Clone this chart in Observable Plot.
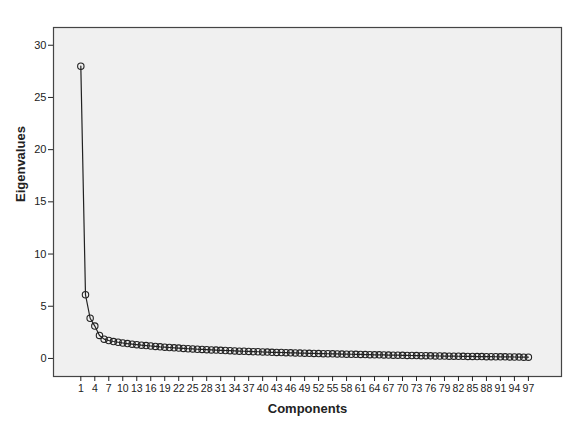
<!DOCTYPE html>
<html>
<head>
<meta charset="utf-8">
<script src="https://cdn.jsdelivr.net/npm/d3@7"></script>
<script src="https://cdn.jsdelivr.net/npm/@observablehq/plot@0.6"></script>
<style>
  html, body { margin: 0; padding: 0; background: #fff; }
</style>
</head>
<body>
<div id="chart"></div>
<script>
const eigenvalues = [
  28.0, 6.1, 3.85, 3.1, 2.2, 1.85, 1.72, 1.62, 1.55, 1.48,
  1.42, 1.37, 1.32, 1.27, 1.23, 1.19, 1.15, 1.11, 1.08, 1.05,
  1.02, 0.99, 0.96, 0.93, 0.91, 0.88, 0.86, 0.84, 0.82, 0.80,
  0.78, 0.76, 0.74, 0.72, 0.70, 0.69, 0.67, 0.65, 0.64, 0.62,
  0.61, 0.59, 0.58, 0.57, 0.55, 0.54, 0.53, 0.51, 0.50, 0.49,
  0.48, 0.47, 0.46, 0.45, 0.44, 0.43, 0.42, 0.41, 0.40, 0.39,
  0.38, 0.37, 0.36, 0.35, 0.345, 0.335, 0.325, 0.315, 0.31, 0.30,
  0.29, 0.28, 0.275, 0.265, 0.26, 0.25, 0.245, 0.235, 0.23, 0.22,
  0.215, 0.21, 0.20, 0.195, 0.19, 0.18, 0.175, 0.17, 0.165, 0.16,
  0.155, 0.15, 0.145, 0.14, 0.13, 0.125, 0.12
];
const components = eigenvalues.map((_, i) => i + 1);
const xTicks = d3.range(1, 98, 3);
const yTicks = [0, 5, 10, 15, 20, 25, 30];
const xTitle = "Components";
const yTitle = "Eigenvalues";

const data = components.map((c, i) => ({component: c, value: eigenvalues[i]}));

const chart = Plot.plot({
  width: 567,
  height: 427,
  marginLeft: 53,
  marginRight: 6,
  marginTop: 27,
  marginBottom: 51,
  style: {fontFamily: "Arial, 'Liberation Sans', sans-serif", fontSize: "11px", color: "#222", background: "#fff"},
  x: {domain: [-4.86, 104.1]},
  y: {domain: [-1.73, 31.7]},
  marks: [
    Plot.frame({fill: "#f0f0f0", stroke: "#444", strokeWidth: 1.2}),
    Plot.axisX({ticks: xTicks, tickSize: 5, tickPadding: 3, label: null, fontSize: 10.5}),
    Plot.axisY({ticks: yTicks, tickSize: 5, tickPadding: 2, label: null, fontSize: 11}),
    Plot.text([xTitle], {frameAnchor: "bottom", dy: 36, text: d => d, fontWeight: "bold", fontSize: 13}),
    Plot.text([yTitle], {frameAnchor: "left", dx: -33, rotate: -90, text: d => d, fontWeight: "bold", fontSize: 13}),
    Plot.line(data, {x: "component", y: "value", stroke: "#222", strokeWidth: 1.2}),
    Plot.dot(data, {x: "component", y: "value", r: 3.2, stroke: "#222", strokeWidth: 1.1, fill: "none"})
  ]
});
document.getElementById("chart").appendChild(chart);
</script>
</body>
</html>
